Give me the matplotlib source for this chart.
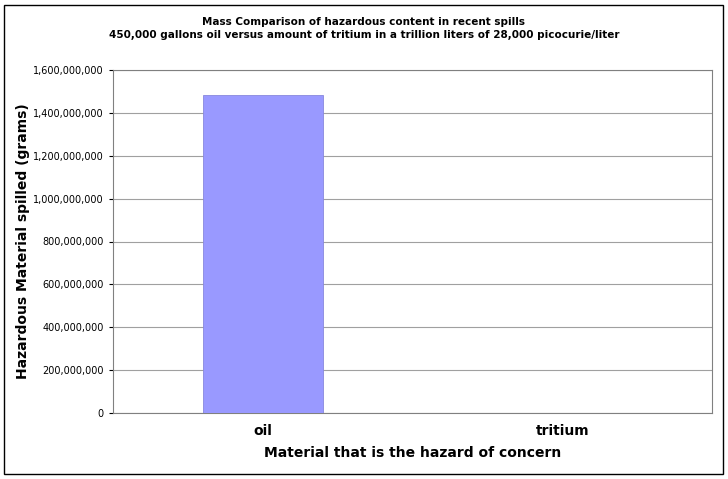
import matplotlib.pyplot as plt
from matplotlib.patches import Rectangle
from matplotlib.ticker import FuncFormatter

categories = ['oil', 'tritium']
grams = [1485000000, 0.06]

fig = plt.figure(figsize=(7.28, 4.79), dpi=100)
fig.patches.append(Rectangle((4/728, 5/479), 719/728, 469/479, transform=fig.transFigure,
                             fill=False, edgecolor='black', linewidth=1))
ax = fig.add_axes([113/728, 66/479, 599/728, 343/479])

x = [0, 1]
ax.bar(x, grams, width=0.4, color='#9999ff', edgecolor='#8888dd', linewidth=0.6, zorder=3)
ax.set_xlim(-0.5, 1.5)
ax.set_ylim(0, 1600000000)
ax.set_yticks(range(0, 1600000001, 200000000))
ax.yaxis.set_major_formatter(FuncFormatter(lambda v, p: f'{int(v):,}'))
ax.set_xticks(x)
ax.set_xticklabels(categories, fontsize=10, fontweight='bold')
ax.tick_params(axis='y', labelsize=7, length=3)
ax.tick_params(axis='x', length=0, pad=8)
ax.grid(axis='y', color='#a0a0a0', linewidth=0.8, zorder=0)
for s in ax.spines.values():
    s.set_color('#808080')

ax.set_xlabel('Material that is the hazard of concern', fontsize=10, fontweight='bold', labelpad=6)
ax.set_ylabel('Hazardous Material spilled (grams)', fontsize=10, fontweight='bold', labelpad=2)
fig.text(0.5, 0.94, 'Mass Comparison of hazardous content in recent spills\n'
         '450,000 gallons oil versus amount of tritium in a trillion liters of 28,000 picocurie/liter',
         ha='center', va='center', fontsize=7.5, fontweight='bold', linespacing=1.4)

fig.savefig('out.png', dpi=100)
